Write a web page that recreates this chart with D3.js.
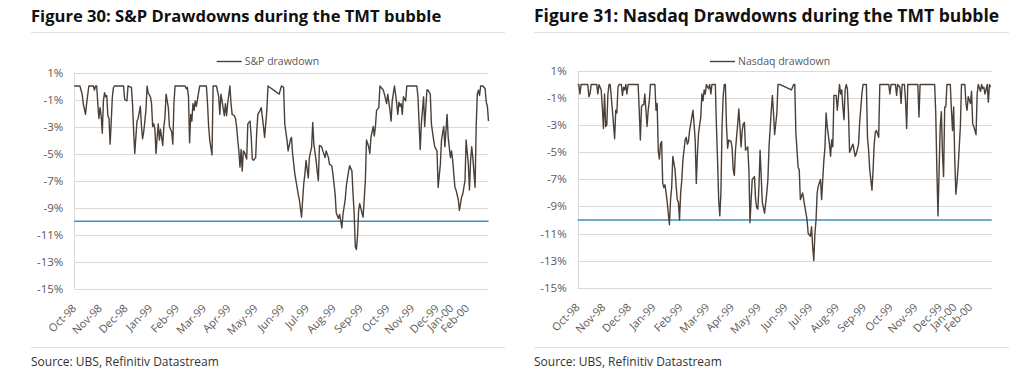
<!DOCTYPE html>
<html><head><meta charset="utf-8">
<script src="https://cdn.jsdelivr.net/npm/d3@7"></script>
<style>
html,body{margin:0;padding:0;background:#fff;}
svg{display:block;}
</style></head>
<body>
<svg id="chart" width="1024" height="376"></svg>
<script>
// ---------- DATA ----------
const monthLabels = ["Oct-98","Nov-98","Dec-98","Jan-99","Feb-99","Mar-99","Apr-99","May-99","Jun-99","Jul-99","Aug-99","Sep-99","Oct-99","Nov-99","Dec-99","Jan-00","Feb-00"];
const monthIdx = [0,23,46,68,92,116,138,162,186,208,232,256,280,302,324,337,351];
const yTicks = [1,-1,-3,-5,-7,-9,-11,-13,-15];
const threshold = -10;

// S&P drawdown (%), by trading-day index
const spDay = [0,5,7,8,10,11,13,17,18,19,20,21,22,23,24,25,26,27,28,29,30,31,32,33,34,35,36,44,45,47,48,51,52,53,54,56,57,59,60,61,62,63,64,65,66,68,69,70,71,72,73,74,75,76,77,78,79,80,81,82,84,85,87,88,89,90,99,100,101,102,103,104,105,106,107,108,109,111,112,118,119,120,121,123,124,127,129,130,131,132,134,135,136,137,139,140,141,143,144,145,146,147,148,149,150,151,152,154,155,157,158,159,160,162,163,164,166,167,169,170,172,173,183,185,187,188,190,191,193,194,195,197,199,200,201,203,204,205,206,207,209,210,212,213,214,216,217,218,219,221,222,224,225,227,228,230,231,233,234,236,237,239,240,242,243,245,246,248,249,250,251,252,253,254,255,257,258,260,261,263,264,265,267,268,269,270,272,273,275,276,277,279,280,282,283,284,286,287,288,289,290,291,292,293,294,296,297,306,307,309,310,312,313,315,316,318,319,321,322,324,325,327,328,330,331,333,334,336,337,338,340,341,343,344,346,347,349,350,352,353,354,355,356,358,359,360,361,362,363,365,367,368,369,370];
const spDD = [0,0,-0.6,-1.3,-2.1,-1.3,0,0,-0.3,0,0,-1.3,-2.4,-1.6,-2.2,-3.5,-1.1,-0.5,-0.8,-0.7,-2.2,-2.4,-4.3,-2.6,-0.8,-0.1,0,0,-1.0,-1.1,0,-0.1,-1.3,-3.3,-5.0,-2.6,-2.4,-1.5,-3.0,-3.9,-3.4,-2.6,-1.8,0,-0.5,-0.8,-1.3,-3.0,-2.8,-3.2,-5.0,-3.8,-2.8,-4.0,-3.2,-3.8,-4.4,-3.0,-2.3,-0.6,-1.6,-3.0,-3.4,-4.3,-1.3,0,0,-0.2,-0.1,-0.8,-4.2,-2.1,-2.6,-1.3,-1.8,-1.1,-1.5,-0.5,0,0,-1.3,-3.0,-4.0,-5.1,0,0,-0.8,-2.1,-0.6,-1.1,-2.2,-1.3,-2.2,-1.3,0,-1.3,-2.1,-2.2,-2.4,-3.0,-4.0,-4.8,-6.0,-4.7,-6.3,-4.8,-4.9,-5.4,-2.8,-2.6,-3.7,-5.4,-5.5,-5.3,-3.3,-2.1,-1.8,-1.6,-3.0,-3.8,-1.8,0,-0.6,0,-0.1,-2.8,-4.0,-4.8,-4.0,-3.8,-5.0,-6.5,-7.5,-8.0,-8.4,-9.7,-8.4,-7.2,-6.5,-5.5,-6.8,-5.3,-4.5,-2.7,-4.3,-5.5,-6.3,-7.0,-4.4,-4.5,-4.8,-5.3,-4.8,-5.3,-5.8,-5.9,-6.5,-8.0,-9.4,-9.8,-9.5,-10.5,-9.5,-8.4,-7.4,-6.3,-5.9,-6.3,-8.0,-9.4,-11.9,-12.1,-11.1,-9.2,-8.7,-9.4,-9.7,-7.0,-4.0,-4.5,-5.0,-3.8,-3.0,-3.7,-3.0,-1.8,-1.6,0,-0.2,-0.3,-0.6,-1.3,-0.6,-1.8,-2.6,-1.1,0,-0.6,-1.3,-2.1,-1.2,-1.5,-1.3,-2.1,-0.8,-1.1,0,0,-0.8,-4.7,-2.8,-0.8,-3.0,-0.3,-0.3,-0.6,-2.8,-4.0,-4.5,-4.8,-7.5,-5.8,-4.0,-3.0,-4.5,-2.1,-3.8,-5.3,-4.8,-5.5,-7.5,-7.7,-8.4,-9.2,-8.2,-8.0,-7.0,-4.0,-5.8,-7.7,-5.5,-4.5,-5.3,-7.5,-3.0,-0.6,-0.3,-0.7,0,0,-0.2,-1.2,-1.5,-2.6];

// Nasdaq drawdown (%), by trading-day index
const ndDay = [0,1,2,3,9,10,11,12,17,18,19,21,22,23,24,25,26,27,28,29,30,31,33,34,35,36,37,39,40,41,42,43,44,45,54,55,56,57,58,59,60,62,63,64,65,69,70,71,72,73,74,75,76,77,78,79,80,82,83,84,85,87,88,89,90,91,92,93,94,95,96,97,98,99,100,101,103,104,105,106,107,108,110,111,112,113,114,115,117,118,119,120,123,124,125,126,127,128,129,130,131,132,133,134,135,137,138,139,140,141,143,144,145,146,147,148,149,150,152,153,154,155,156,158,159,160,161,162,163,164,165,167,169,170,171,173,174,175,176,178,179,181,191,193,194,195,197,198,199,201,203,205,206,208,209,210,211,212,213,214,215,217,218,219,220,221,222,223,225,226,227,228,229,231,232,234,235,236,237,238,239,240,241,242,243,245,246,248,249,251,252,254,255,258,259,260,261,263,264,265,266,267,269,270,278,279,280,284,285,286,288,289,290,292,293,294,295,304,305,306,319,320,321,322,323,324,325,326,327,328,329,330,333,334,335,336,337,338,339,340,342,343,346,347,348,349,351,352,353,354,356,357,358,360,361,362,363,364,366,367,368,369];
const ndDD = [0,0,-0.7,0,0,-0.9,-0.7,0,0,-0.7,0,-0.4,-1.65,-3.25,-0.7,-3.1,-3.0,-0.7,0,0,-0.9,-1.9,-4.0,-1.9,-2.1,-0.2,0,0,-0.8,-0.2,-0.4,0,-0.7,0,0,-1.9,-4.1,-1.65,-1.5,-1.5,-0.7,-3.1,-1.9,-1.2,0,0,-1.9,-1.4,-4.9,-5.5,-4.4,-4.2,-7.3,-7.6,-7.4,-8.0,-8.7,-10.35,-8.5,-7.6,-5.3,-6.3,-7.5,-8.5,-8.7,-10.0,-8.0,-7.1,-5.6,-4.85,-4.1,-3.9,-4.4,-4.2,-3.4,-2.9,-1.9,-2.9,-4.1,-7.3,-5.1,-3.6,-2.4,-0.7,-1.2,-0.4,-0.7,0,-0.3,0,-0.7,0,0,-3.1,-5.6,-8.5,-9.7,-8.0,-3.1,-0.9,0,0,-3.1,-4.7,-4.1,-4.2,-4.7,-6.3,-6.7,-4.85,-2.9,-1.8,-3.1,-4.6,-3.4,-2.9,-2.8,-4.85,-4.6,-6.3,-10.2,-8.5,-7.0,-6.8,-8.5,-9.1,-9.2,-7.5,-4.85,-6.8,-8.7,-9.5,-8.0,-7.0,-4.6,-1.9,-0.8,-2.1,-3.7,-2.1,0,0,-0.4,0,0,-3.6,-6.1,-6.3,-8.5,-8.0,-9.0,-10.0,-11.0,-11.2,-10.5,-12.0,-13.0,-11.0,-10.0,-8.0,-7.5,-7.0,-8.5,-7.0,-5.6,-4.6,-2.1,-3.1,-4.4,-5.3,-4.1,-4.6,-0.8,-0.8,-1.9,0,-0.7,-0.4,-1.65,-2.6,-0.4,0,-0.3,-2.1,-5.0,-4.6,-4.4,-5.3,-5.1,-4.4,-2.8,-0.7,0,0,-3.9,-4.85,-6.3,-7.8,-6.3,-4.4,-3.5,-3.4,-3.9,0,0,-0.7,0,0,-0.8,0,-0.2,-1.4,0,0,-1.2,-3.25,0,0,-2.4,0,0,-2.1,-6.3,-9.7,-6.3,-3.1,-2.0,-5.1,-6.8,-1.65,-1.65,0,0,-1.9,-3.4,-1.65,-5.6,-8.1,-7.2,-6.1,-3.1,0,0,-1.4,-1.9,-0.9,-1.4,-0.5,-2.9,-3.1,-3.7,-0.7,0,-0.5,0,-0.3,-0.2,-0.7,0,-1.3,0,-0.2];

// ---------- DRAW ----------
const svg = d3.select("#chart");
const FONT = "'Open Sans', 'Noto Sans', sans-serif";

const panels = [
  {title:"Figure 30: S&P Drawdowns during the TMT bubble", legend:"S&P drawdown", day:spDay, dd:spDD,
   x0:74.3, x1:488.5, yTop:72.5, yBot:288.7, tx:31, sepX1:505, legX:216.7, titleSize:16.6},
  {title:"Figure 31: Nasdaq Drawdowns during the TMT bubble", legend:"Nasdaq drawdown", day:ndDay, dd:ndDD,
   x0:577.7, x1:991.7, yTop:71, yBot:287.7, tx:534, sepX1:1009, legX:710, titleSize:17.5}
];

panels.forEach(p => {
  const g = svg.append("g");
  const x = d3.scaleLinear().domain([0,370]).range([p.x0, p.x1]);
  const y = d3.scaleLinear().domain([-15,1]).range([p.yBot, p.yTop]);

  // title
  g.append("text").attr("x", p.tx).attr("y", 22)
    .attr("font-family", FONT).attr("font-weight", 700).attr("font-size", p.titleSize + "px")
    .attr("fill", "#111").text(p.title);
  g.append("line").attr("x1", p.tx).attr("x2", p.sepX1).attr("y1", 32.5).attr("y2", 32.5)
    .attr("stroke", "#e0e0e0").attr("stroke-width", 1);

  // gridlines
  g.append("g").selectAll("line").data(yTicks).join("line")
    .attr("x1", p.x0).attr("x2", x.range()[1])
    .attr("y1", d => Math.round(y(d))+0.5).attr("y2", d => Math.round(y(d))+0.5)
    .attr("stroke", "#d9d9d9").attr("stroke-width", 1);
  // left axis line
  g.append("line").attr("x1", Math.round(p.x0)+0.5).attr("x2", Math.round(p.x0)+0.5)
    .attr("y1", y(1)).attr("y2", y(-15)).attr("stroke", "#d9d9d9");

  // y labels
  g.append("g").selectAll("text").data(yTicks).join("text")
    .attr("x", p.x0 - 11).attr("y", d => y(d)).attr("dy", "0.35em")
    .attr("text-anchor", "end").attr("font-family", FONT).attr("font-size", "11.5px")
    .attr("fill", "#595959").text(d => d + "%");

  // x labels
  g.append("g").selectAll("text").data(monthLabels).join("text")
    .attr("transform", (d,i) => `translate(${x(monthIdx[i])},${p.yBot + 17.5}) rotate(-45)`)
    .attr("dy", "0.35em").attr("text-anchor", "end")
    .attr("font-family", FONT).attr("font-size", "11px").attr("fill", "#595959")
    .text(d => d);

  // threshold line
  g.append("line").attr("x1", p.x0).attr("x2", x.range()[1])
    .attr("y1", y(threshold)).attr("y2", y(threshold))
    .attr("stroke", "#3d8ec9").attr("stroke-width", 1.5);

  // series line
  const pts = p.day.map((d,i) => [d, p.dd[i]]);
  g.append("path").datum(pts)
    .attr("d", d3.line().x(d => x(d[0])).y(d => y(d[1])))
    .attr("fill", "none").attr("stroke", "#4b4038").attr("stroke-width", 1.4)
    .attr("stroke-linejoin", "round");

  // legend
  g.append("line").attr("x1", p.legX).attr("x2", p.legX + 25).attr("y1", 61.5).attr("y2", 61.5)
    .attr("stroke", "#4b4038").attr("stroke-width", 1.4);
  g.append("text").attr("x", p.legX + 28).attr("y", 61.5).attr("dy", "0.35em")
    .attr("font-family", FONT).attr("font-size", "10.5px").attr("fill", "#595959").text(p.legend);

  // bottom separator + source
  g.append("line").attr("x1", p.tx).attr("x2", p.sepX1).attr("y1", 347.5).attr("y2", 347.5)
    .attr("stroke", "#e0e0e0");
  g.append("text").attr("x", p.tx).attr("y", 366)
    .attr("font-family", FONT).attr("font-size", "12px").attr("fill", "#333")
    .text("Source: UBS, Refinitiv Datastream");
});
</script>
</body></html>
